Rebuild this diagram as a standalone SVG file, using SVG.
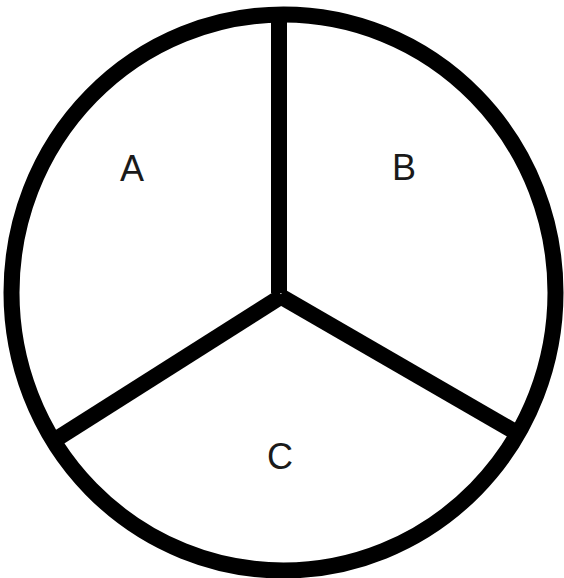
<svg xmlns="http://www.w3.org/2000/svg" width="564" height="578" viewBox="0 0 564 578">
<style>
.ln{stroke:#000;stroke-width:16;fill:none;stroke-linecap:butt}
.lbl{font-family:"Liberation Sans","Open Sans",sans-serif;font-size:36px;fill:#1a1a1a;text-anchor:middle}
</style>
<rect width="564" height="578" fill="#fff"/>
<g id="connectors">
<line class="ln" x1="279" y1="16" x2="279" y2="293"/>
<line class="ln" x1="282" y1="296" x2="58" y2="438"/>
<line class="ln" x1="280" y1="296" x2="517" y2="433"/>
</g>
<g id="circle">
<ellipse class="ln" cx="283.5" cy="292.5" rx="272" ry="278"/>
</g>
<g id="A"><text class="lbl" x="132" y="181">A</text></g>
<g id="B"><text class="lbl" x="404" y="180">B</text></g>
<g id="C"><text class="lbl" x="280" y="469">C</text></g>
</svg>
